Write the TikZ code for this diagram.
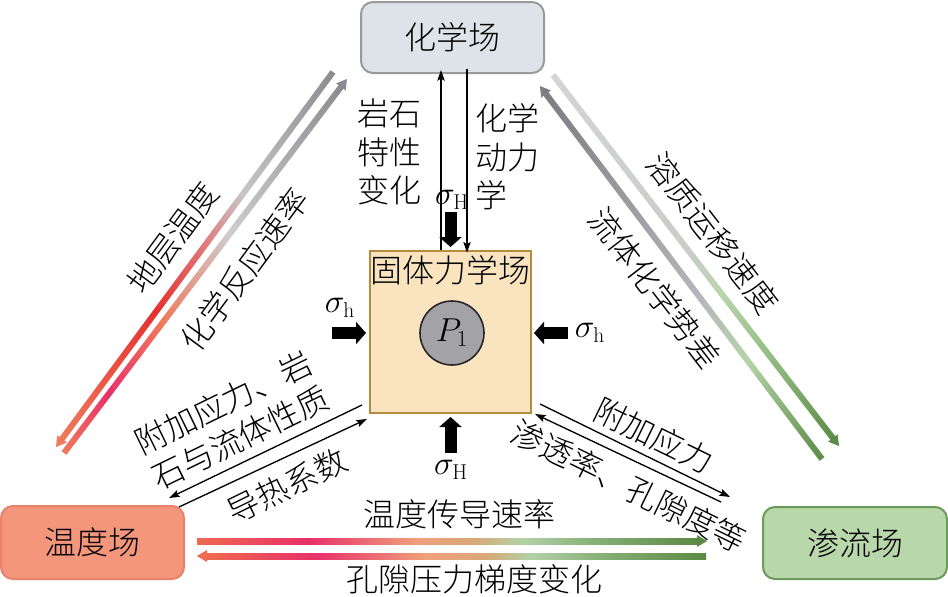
\documentclass[tikz,border=0pt]{standalone}
\usepackage{fontspec}
\IfFontExistsTF{Noto Sans CJK SC Light}{\newfontfamily\cjk{Noto Sans CJK SC Light}}{%
  \IfFontExistsTF{Noto Sans CJK SC DemiLight}{\newfontfamily\cjk{Noto Sans CJK SC DemiLight}}{\newfontfamily\cjk{Noto Sans CJK SC}}}
\usetikzlibrary{arrows.meta}
\definecolor{chemfill}{HTML}{DEE2E9}
\definecolor{chemdraw}{HTML}{9A9A9A}
\definecolor{tempfill}{HTML}{F4967C}
\definecolor{tempdraw}{HTML}{E8826C}
\definecolor{seepfill}{HTML}{B8D7AA}
\definecolor{seepdraw}{HTML}{6B9A5A}
\definecolor{solidfill}{HTML}{F9E4BF}
\definecolor{soliddraw}{HTML}{B48C3C}
\definecolor{porefill}{HTML}{A3A3A7}
% left pair
\definecolor{gAa}{HTML}{8C8C90}
\definecolor{gAb}{HTML}{C6C6C8}
\definecolor{gAc}{HTML}{E27A7A}
\definecolor{gAd}{HTML}{E4302E}
\definecolor{gAe}{HTML}{F07A5C}
\definecolor{gBb}{HTML}{E8306A}
\definecolor{gBc}{HTML}{F0785A}
\definecolor{gBd}{HTML}{CDCDCF}
% right pair
\definecolor{gCa}{HTML}{D4D4D6}
\definecolor{gCb}{HTML}{C9CCC8}
\definecolor{gCc}{HTML}{B8D6AC}
\definecolor{gCd}{HTML}{8AB478}
\definecolor{gCe}{HTML}{5E8C48}
\definecolor{gDb}{HTML}{B4D4A8}
\definecolor{gDc}{HTML}{B8B8BC}
\definecolor{gDd}{HTML}{7E7E82}
% bottom pair
\definecolor{gEa}{HTML}{EE6A50}
\definecolor{gEb}{HTML}{E8306A}
\definecolor{gEc}{HTML}{F0A07A}
\definecolor{gEd}{HTML}{D8A878}
\definecolor{gEe}{HTML}{B2D2A8}
\definecolor{gEf}{HTML}{88B078}
\definecolor{gEg}{HTML}{5A8A44}
\pgfdeclarehorizontalshading{shA}{100bp}{color(0bp)=(gAa); color(25bp)=(gAa); color(41.5bp)=(gAb); color(48.5bp)=(gAc); color(57.5bp)=(gAd); color(75bp)=(gAe); color(100bp)=(gAe)}
\pgfdeclarehorizontalshading{shB}{100bp}{color(0bp)=(gAe); color(25bp)=(gAe); color(33bp)=(gBb); color(42.5bp)=(gBc); color(55bp)=(gBd); color(75bp)=(gAa); color(100bp)=(gAa)}
\pgfdeclarehorizontalshading{shC}{100bp}{color(0bp)=(gCa); color(25bp)=(gCa); color(50bp)=(gCb); color(55bp)=(gCc); color(66bp)=(gCd); color(75bp)=(gCe); color(100bp)=(gCe)}
\pgfdeclarehorizontalshading{shD}{100bp}{color(0bp)=(gCe); color(25bp)=(gCe); color(38.5bp)=(gDb); color(46.5bp)=(gDc); color(75bp)=(gDd); color(100bp)=(gDd)}
\pgfdeclarehorizontalshading{shE}{100bp}{color(0bp)=(gEa); color(25bp)=(gEa); color(36bp)=(gEb); color(47bp)=(gEc); color(52.5bp)=(gEd); color(57.5bp)=(gEe); color(64.5bp)=(gEf); color(75bp)=(gEg); color(100bp)=(gEg)}
\pgfdeclarehorizontalshading{shF}{100bp}{color(0bp)=(gEg); color(25bp)=(gEg); color(35.5bp)=(gEf); color(42.5bp)=(gEe); color(47bp)=(gEd); color(53bp)=(gEc); color(64bp)=(gEb); color(75bp)=(gEa); color(100bp)=(gEa)}
\newcommand\cnfont{\cjk\fontsize{24}{29}\selectfont}
\newcommand\sigfont{\fontsize{23}{27}\selectfont}
% gradient arrow: #1 start coordinate, #2 canvas angle, #3 length (px), #4 shading, #5 tip colour
\newcommand\gradline[5]{%
  \begin{scope}[transform canvas={shift={(#1)},rotate=#2}]
    \shade[shading=#4] (0,-3) rectangle (#3-9,3);
    \fill[#5] (#3-10,-6) -- (#3,0) -- (#3-10,6) -- cycle;
  \end{scope}}
\begin{document}
\begin{tikzpicture}[x=0.75pt,y=-0.75pt,
  field/.style={draw, line width=1.5pt, rounded corners=9pt, minimum width=137.5pt, minimum height=54pt, inner sep=0pt, font=\cnfont},
  lab/.style={font=\cnfont, inner sep=0pt, align=center},
  sig/.style={font=\sigfont, inner sep=0pt},
  thinarrow/.style={line width=1pt, -{Stealth[length=8pt,width=5.5pt,inset=1.5pt]}},
  fatarrow/.style={line width=9pt, -{Triangle[length=7.5pt,width=16.5pt]}}]
\useasboundingbox[fill=white] (0,0) rectangle (948,596);

% field boxes
\node[field, fill=chemfill, draw=chemdraw, minimum width=137.25pt, minimum height=53.25pt] (chem) at (452.5,37.5) {化学场};
\node[field, fill=tempfill, draw=tempdraw, minimum width=137.25pt, minimum height=54.75pt] (temp) at (92.5,542.5) {温度场};
\node[field, fill=seepfill, draw=seepdraw, minimum width=138pt, minimum height=54pt] (seep) at (855,543) {渗流场};
\node[draw=soliddraw, fill=solidfill, line width=1.5pt, minimum width=120.75pt, minimum height=121.5pt, inner sep=0pt] (solid) at (450.5,332) {};
\node[lab] (solidlab) at (450,270) {固体力学场};
\node[circle, draw=black!85, fill=porefill, line width=1.2pt, minimum size=48pt, inner sep=0pt, font=\fontsize{23}{27}\selectfont] (pore) at (452,333) {$P_1$};

% stress arrows
\draw[fatarrow] ([shift={(-37,1)}]solid.west) -- ([shift={(-3,1)}]solid.west);
\draw[fatarrow] ([shift={(36,1)}]solid.east) -- ([shift={(2,1)}]solid.east);
\draw[fatarrow] ([shift={(0,-38)}]solid.north) -- ([shift={(0,-3)}]solid.north);
\draw[fatarrow] ([shift={(0,39)}]solid.south) -- ([shift={(0,3)}]solid.south);
\node[sig] (sl) at (340,308) {$\sigma_{\mathrm{h}}$};
\node[sig] (sr) at (590,333) {$\sigma_{\mathrm{h}}$};
\node[sig] (st) at (452,200) {$\sigma_{\mathrm{H}}$};
\node[sig] (sb) at (451,470) {$\sigma_{\mathrm{H}}$};

% chemistry <-> solid
\coordinate (upx) at (441,0);
\coordinate (dnx) at (467,0);
\draw[thinarrow] (solid.north -| upx) -- ([yshift=3]chem.south -| upx);
\draw[thinarrow] ([yshift=4]chem.south -| dnx) -- ([yshift=-2]solid.north -| dnx);
\node[lab] (l1) at (389,152) {岩石\\特性\\变化};
\node[lab, align=left, anchor=west] (l2) at (475,157) {化学\\动力\\学};

% solid <-> temperature
\draw[thinarrow] ([shift={(-7,-9)}]solid.south west) -- ([shift={(-16,-7)}]temp.north east);
\draw[thinarrow] ([shift={(-6,2)}]temp.north east) -- ([shift={(-2,5)}]solid.south west);
\node[lab, align=left, rotate=26] (l3) at (232,420) {附加应力、岩\\石与流体性质};
\node[lab, rotate=26] (l4) at (287,486) {导热系数};

% solid <-> seepage
\draw[thinarrow] ([shift={(8,-10)}]solid.south east) -- ([shift={(-32,-9)}]seep.north west);
\draw[thinarrow] ([shift={(-41,-4)}]seep.north west) -- ([shift={(3,0)}]solid.south east);
\node[lab, rotate=-26] (l5) at (654,436) {附加应力};
\node[lab, rotate=-26] (l6) at (629,486) {渗透率、孔隙度等};

% gradient arrows
\coordinate (gAs) at (333,72);
\coordinate (gBs) at (64,453);
\coordinate (gCs) at (553,75);
\coordinate (gDs) at (822,459);
\coordinate (gEs) at (197,541);
\coordinate (gFs) at (706,556);
\gradline{gAs}{233.55}{466.2}{shA}{gAe}
\gradline{gBs}{52.89}{469.0}{shB}{gAa}
\gradline{gCs}{-52.37}{468.4}{shC}{gCe}
\gradline{gDs}{127.1}{467.6}{shD}{gDd}
\gradline{gEs}{0}{510}{shE}{gEg}
\gradline{gFs}{180}{509}{shF}{gEa}

\node[lab, rotate=53.5] (l7) at (173,238) {地层温度};
\node[lab, rotate=53.5] (l8) at (245,270) {化学反应速率};
\node[lab, rotate=-52.4] (l9) at (713,233) {溶质运移速度};
\node[lab, rotate=-52.4] (l10) at (655,288) {流体化学势差};
\node[lab] (l11) at (459,514) {温度传导速率};
\node[lab] (l12) at (474,579) {孔隙压力梯度变化};
\end{tikzpicture}
\end{document}
